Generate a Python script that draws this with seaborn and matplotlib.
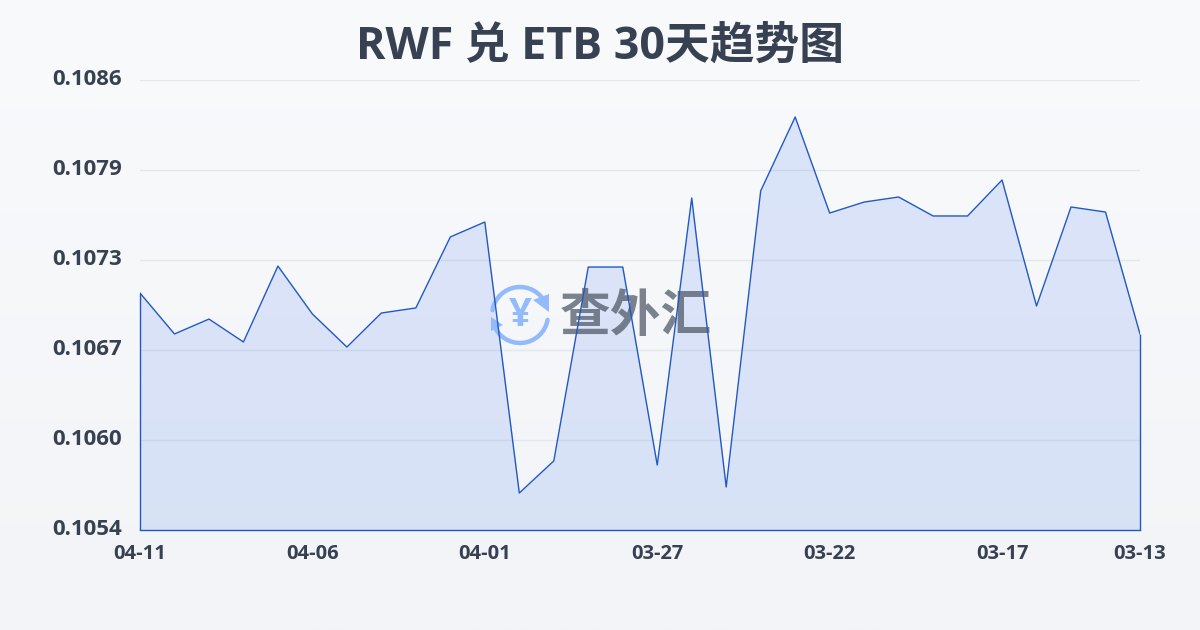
import numpy as np
import pandas as pd
import matplotlib
matplotlib.use('Agg')
import matplotlib.pyplot as plt
import seaborn as sns
from matplotlib.patches import PathPatch, Polygon
from matplotlib.path import Path
from matplotlib.transforms import Affine2D, ScaledTranslation

dates = ['04-11', '04-10', '04-09', '04-08', '04-07', '04-06', '04-05', '04-04', '04-03', '04-02',
         '04-01', '03-31', '03-30', '03-29', '03-28', '03-27', '03-26', '03-25', '03-24', '03-23',
         '03-22', '03-21', '03-20', '03-19', '03-18', '03-17', '03-16', '03-15', '03-14', '03-13']
rates = [0.107085, 0.106794, 0.106900, 0.106737, 0.107277, 0.106936, 0.106701, 0.106943, 0.106979, 0.107484,
         0.107590, 0.105663, 0.105891, 0.107270, 0.107270, 0.105862, 0.107761, 0.105706, 0.107811, 0.108337,
         0.107654, 0.107732, 0.107768, 0.107633, 0.107633, 0.107889, 0.106993, 0.107697, 0.107661, 0.106794]
yTicks = [0.1054, 0.10604, 0.10668, 0.10732, 0.10796, 0.1086]
yLabels = ['0.1054', '0.1060', '0.1067', '0.1073', '0.1079', '0.1086']
xTickDates = ['04-11', '04-06', '04-01', '03-27', '03-22', '03-17', '03-13']

sns.set_theme(style='white')
plt.rcParams['font.family'] = ['Open Sans', 'Noto Sans CJK SC', 'DejaVu Sans']

WIDTH, HEIGHT = 1200, 630
TEXT = '#374151'
LINE = '#2258c4'
LOGO = '#93bbfb'


def px(x, y):
    # picture coordinates (y down) to display coordinates
    return x, HEIGHT - y


fig = plt.figure(figsize=(WIDTH / 100, HEIGHT / 100), dpi=100)

# background gradient
bg = fig.add_axes([0, 0, 1, 1], zorder=-1)
bg.imshow(np.linspace(0, 1, 256).reshape(-1, 1), aspect='auto', extent=(0, 1, 0, 1),
          cmap=matplotlib.colors.LinearSegmentedColormap.from_list('bg', ['#f8fafc', '#f2f4f7']))
bg.axis('off')

ax = fig.add_axes([140 / WIDTH, 100 / HEIGHT, 1000 / WIDTH, 450 / HEIGHT])
ax.patch.set_alpha(0)

df = pd.DataFrame({'date': dates, 'rate': rates, 'pos': np.arange(len(dates))})
ax.fill_between(df['pos'], df['rate'], yTicks[0], color='#2563eb', alpha=0.13, lw=0, zorder=2)
sns.lineplot(data=df, x='pos', y='rate', ax=ax, color=LINE, lw=1, zorder=5)
# the area outline closes down to the baseline at both ends
ax.vlines([df['pos'].iloc[0], df['pos'].iloc[-1]], yTicks[0], [rates[0], rates[-1]], color=LINE, lw=1,
          clip_on=False, zorder=5)

ax.set_xlim(0, len(dates) - 1)
ax.set_ylim(yTicks[0], yTicks[-1])
ax.set_xlabel('')
ax.set_ylabel('')

ax.set_yticks(yTicks, yLabels)
ax.set_xticks([dates.index(d) for d in xTickDates], xTickDates)
ax.grid(axis='y', color='#e4e7ec', lw=1, zorder=1)
ax.tick_params(axis='y', length=0, pad=13, labelsize=16, labelcolor=TEXT)
ax.tick_params(axis='x', length=7.2, width=1, color='#e4e7ec', pad=2.8, labelsize=14.5, labelcolor=TEXT)
for label in ax.get_xticklabels() + ax.get_yticklabels():
    label.set_fontweight('bold')
# y labels sit a little above their grid lines
up = ScaledTranslation(0, 2 / 72, fig.dpi_scale_trans)
for label in ax.get_yticklabels():
    label.set_transform(label.get_transform() + up)
for side in ['top', 'left', 'right']:
    ax.spines[side].set_visible(False)
ax.spines['bottom'].set_color(LINE)
ax.spines['bottom'].set_linewidth(1)

# watermark, under the line
cx, cy = px(520, 315)
for t1, t2 in [(25, 170), (200, 350)]:
    ax.add_patch(PathPatch(Path.arc(t1, t2), transform=Affine2D().scale(28).translate(cx, cy),
                           fill=False, ec=LOGO, lw=3.2, capstyle='round', clip_on=False, zorder=3))
ax.add_patch(Polygon([px(533, 300), px(549, 294), px(549, 312)], closed=True, transform=Affine2D(),
                     fc=LOGO, ec='none', clip_on=False, zorder=3))
ax.add_patch(Polygon([px(491, 317), px(491, 331), px(503, 325)], closed=True, transform=Affine2D(),
                     fc=LOGO, ec='none', clip_on=False, zorder=3))
ax.text(cx, cy, '¥', transform=Affine2D(), fontsize=29, fontweight='bold', color=LOGO,
        ha='center', va='center', zorder=3)
x0, y0 = px(636, 316)
ax.text(x0, y0, '查外汇', transform=Affine2D(), fontsize=36.5, fontweight='bold', color='#4b5563', alpha=0.72,
        ha='center', va='center', family=['Noto Sans CJK SC', 'DejaVu Sans'], zorder=4)

fig.text(600 / WIDTH, 1 - 47 / HEIGHT, 'RWF 兑 ETB 30天趋势图', fontsize=32.2, fontweight='bold', color=TEXT,
         ha='center', va='center')

fig.savefig('out.png', dpi=100)
